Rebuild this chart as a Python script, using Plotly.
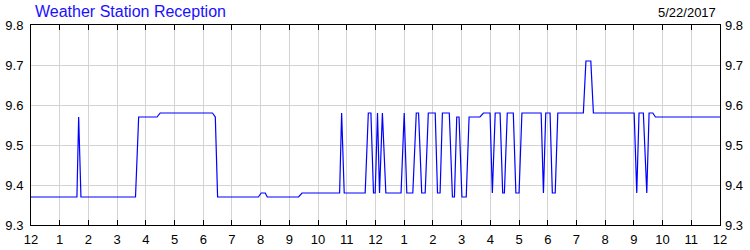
import plotly.graph_objects as go

# time in hours after midnight (5/22/2017)
hours = [0.00, 1.60, 1.66, 1.74, 3.64, 3.75, 4.39, 4.50, 6.32, 6.42, 6.50,
         7.92, 8.02, 8.16, 8.23, 9.32, 9.44, 10.75, 10.82, 10.91, 11.64,
         11.75, 11.84, 11.93, 11.99, 12.07, 12.14, 12.24, 12.36, 12.89,
         13.00, 13.09, 13.30, 13.42, 13.50, 13.61, 13.73, 13.84, 14.08,
         14.16, 14.25, 14.33, 14.57, 14.68, 14.75, 14.83, 14.91, 15.01,
         15.16, 15.26, 15.64, 15.76, 15.99, 16.07, 16.17, 16.34, 16.43,
         16.49, 16.59, 16.80, 16.89, 17.00, 17.10, 17.77, 17.85, 17.93,
         18.08, 18.16, 18.26, 18.35, 19.24, 19.33, 19.50, 19.59, 21.01,
         21.10, 21.18, 21.33, 21.45, 21.53, 21.66, 21.75, 24.00]
reception = [9.37, 9.37, 9.57, 9.37, 9.37, 9.57, 9.57, 9.58, 9.58, 9.57, 9.37,
             9.37, 9.38, 9.38, 9.37, 9.37, 9.38, 9.38, 9.58, 9.38, 9.38,
             9.58, 9.58, 9.38, 9.38, 9.58, 9.38, 9.58, 9.38, 9.38,
             9.58, 9.38, 9.38, 9.58, 9.58, 9.38, 9.38, 9.58, 9.58,
             9.38, 9.38, 9.58, 9.58, 9.37, 9.37, 9.57, 9.57, 9.37,
             9.37, 9.57, 9.57, 9.58, 9.58, 9.38, 9.58, 9.58, 9.38,
             9.38, 9.58, 9.58, 9.38, 9.38, 9.58, 9.58, 9.38, 9.58,
             9.58, 9.38, 9.38, 9.58, 9.58, 9.71, 9.71, 9.58, 9.58,
             9.38, 9.58, 9.58, 9.38, 9.58, 9.58, 9.57, 9.57]

tick_vals = list(range(0, 25))
tick_text = ["12"] + [str(i) for i in range(1, 12)] + ["12"] + [str(i) for i in range(1, 12)] + ["12"]
y_ticks = [9.3, 9.4, 9.5, 9.6, 9.7, 9.8]
y_text = ["9.3", "9.4", "9.5", "9.6", "9.7", "9.8"]

title_text = "Weather Station Reception"
date_text = "5/22/2017"

FONT = "Liberation Sans, Arial, sans-serif"

fig = go.Figure()
fig.add_trace(go.Scatter(x=hours, y=reception, mode="lines",
                         line=dict(color="#0000ff", width=1.2),
                         hoverinfo="skip", showlegend=False))
fig.add_trace(go.Scatter(x=hours, y=reception, mode="lines", yaxis="y2",
                         line=dict(color="rgba(0,0,0,0)", width=0),
                         hoverinfo="skip", showlegend=False))

fig.update_layout(
    width=750, height=250,
    margin=dict(l=31, r=30, t=25, b=25, autoexpand=False),
    paper_bgcolor="white", plot_bgcolor="white",
    font=dict(family=FONT, size=13, color="black"),
    xaxis=dict(range=[0, 24], tickmode="array", tickvals=tick_vals, ticktext=tick_text,
               showgrid=True, gridcolor="#d3d3d3", gridwidth=1,
               showline=True, linecolor="black", linewidth=1, mirror="ticks",
               ticks="inside", ticklen=5, tickcolor="black", tickwidth=1,
               zeroline=False, ticklabelstandoff=2, automargin=False,
               tickfont=dict(family=FONT, size=13, color="black")),
    yaxis=dict(range=[9.3, 9.8], tickmode="array", tickvals=y_ticks, ticktext=y_text,
               showgrid=True, gridcolor="#d3d3d3", gridwidth=1,
               showline=True, linecolor="black", linewidth=1, mirror=True,
               ticks="", zeroline=False, ticklabelstandoff=4, automargin=False,
               tickfont=dict(family=FONT, size=13, color="black")),
    yaxis2=dict(range=[9.3, 9.8], tickmode="array", tickvals=y_ticks, ticktext=y_text,
                overlaying="y", side="right", showgrid=False, showline=False,
                ticks="", zeroline=False, ticklabelstandoff=4, automargin=False,
                tickfont=dict(family=FONT, size=13, color="black")),
    annotations=[
        dict(text=title_text, xref="paper", yref="paper", x=0, y=1,
             xanchor="left", yanchor="middle", xshift=2, yshift=13.5,
             showarrow=False, font=dict(family=FONT, size=16, color="#1a10ff")),
        dict(text=date_text, xref="paper", yref="paper", x=1, y=1,
             xanchor="right", yanchor="middle", xshift=-2, yshift=12.5,
             showarrow=False, font=dict(family=FONT, size=13, color="black")),
    ],
)

fig.write_html("out.html")
